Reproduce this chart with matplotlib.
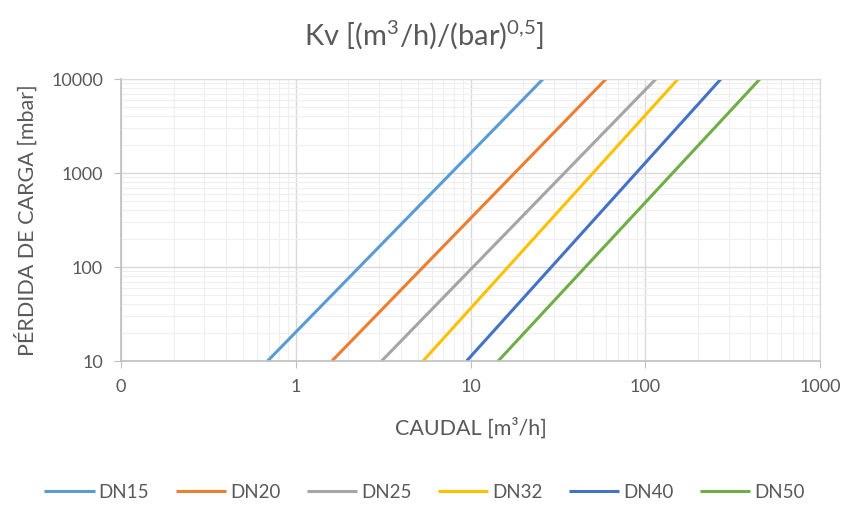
import matplotlib.pyplot as plt
from matplotlib.ticker import FixedLocator, NullFormatter, LogLocator
import numpy as np

plt.rcParams['font.family'] = ['Lato', 'DejaVu Sans']
plt.rcParams['mathtext.fontset'] = 'custom'
plt.rcParams['mathtext.rm'] = 'Lato'
plt.rcParams['mathtext.it'] = 'Lato:italic'

# series: flow at bottom (10 mbar) and top (10000 mbar) of the chart
names = ["DN15", "DN20", "DN25", "DN32", "DN40", "DN50"]
colors = ["#5B9BD5", "#ED7D31", "#A5A5A5", "#FFC000", "#4472C4", "#70AD47"]
flow_low = [0.69, 1.61, 3.1, 5.35, 9.5, 14.4]
flow_high = [26.0, 59.6, 115.0, 154.0, 271.0, 453.0]
dp = [10, 10000]

x_ticks = [0.1, 1, 10, 100, 1000]
x_labels = ["0", "1", "10", "100", "1000"]
y_ticks = [10, 100, 1000, 10000]
y_labels = ["10", "100", "1000", "10000"]

fig = plt.figure(figsize=(8.49, 5.09), dpi=100)
ax = fig.add_axes([121 / 849, 1 - 361 / 509, 699 / 849, 282 / 509])

for name, c, lo, hi in zip(names, colors, flow_low, flow_high):
    ax.plot([lo, hi], dp, color=c, lw=2.2, label=name, solid_capstyle="butt")

ax.set_xscale("log")
ax.set_yscale("log")
ax.set_xlim(0.1, 1000)
ax.set_ylim(10, 10000)

ax.xaxis.set_major_locator(FixedLocator(x_ticks))
ax.set_xticklabels(x_labels)
ax.yaxis.set_major_locator(FixedLocator(y_ticks))
ax.set_yticklabels(y_labels)
ax.xaxis.set_minor_locator(LogLocator(base=10, subs=np.arange(2, 10)))
ax.yaxis.set_minor_locator(LogLocator(base=10, subs=np.arange(2, 10)))
ax.xaxis.set_minor_formatter(NullFormatter())
ax.yaxis.set_minor_formatter(NullFormatter())

ax.grid(which="major", color="#D9D9D9", lw=1.0)
ax.grid(which="minor", color="#EFEFEF", lw=0.8)
ax.set_axisbelow(True)

for s in ["top", "right"]:
    ax.spines[s].set_color("#D9D9D9")
for s in ["left", "bottom"]:
    ax.spines[s].set_color("#BFBFBF")
    ax.spines[s].set_linewidth(1.2)

ax.tick_params(which="major", axis="both", color="#BFBFBF", length=5, labelsize=13,
               labelcolor="#595959", pad=8)
ax.tick_params(which="minor", axis="both", color="#BFBFBF", length=0)

ax.set_xlabel("CAUDAL [m³/h]", fontsize=15.5, color="#595959", labelpad=16)
ax.set_ylabel("PÉRDIDA DE CARGA [mbar]", fontsize=15.5, color="#595959", labelpad=10)
fig.suptitle(r"Kv [(m$^\mathrm{3}$/h)/(bar)$^\mathrm{0{,}5}$]", fontsize=21, color="#595959",
             y=0.965)

fig.legend(loc="center", bbox_to_anchor=(0.5, 1 - 492 / 509), ncol=6, frameon=False,
           fontsize=13.5, labelcolor="#595959", handlelength=2.7, columnspacing=1.4,
           handletextpad=0.2)

fig.savefig("out.png", dpi=100)
